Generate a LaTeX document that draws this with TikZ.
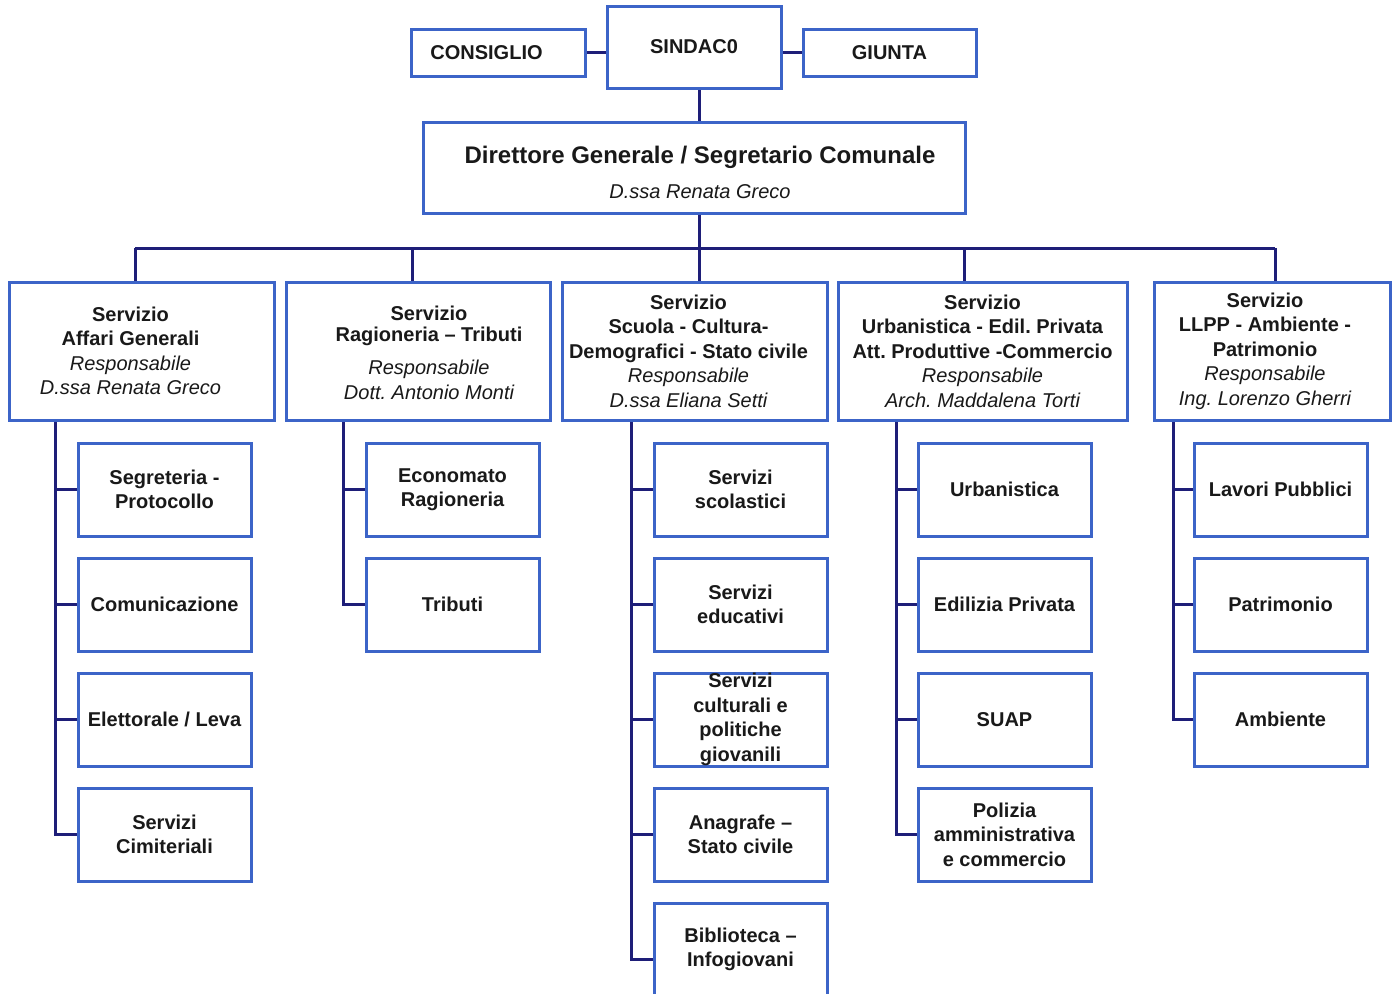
\documentclass[tikz,border=0pt]{standalone}
\usepackage{fontspec}
\setmainfont{Liberation Sans}
\usetikzlibrary{backgrounds}
\definecolor{boxblue}{RGB}{60,100,200}
\definecolor{linenavy}{RGB}{30,30,120}
\definecolor{ink}{RGB}{25,25,25}
\newcommand{\rit}[1]{{\mdseries\itshape #1}}
\frenchspacing
\begin{document}
\begin{tikzpicture}[x=1pt,y=-1pt,
  box/.style={draw=boxblue,line width=3pt,fill=white,inner sep=0pt,align=center,text=ink,font=\bfseries\fontsize{20}{24.5}\selectfont},
  subbox/.style={box,minimum width=173pt,minimum height=93pt},
  servbox/.style={box,minimum height=138pt},
  txt/.style={inner sep=0pt,align=center,text=ink,font=\bfseries\fontsize{20}{24.5}\selectfont},
  conn/.style={draw=linenavy,line width=3pt}]
\useasboundingbox (0,0) rectangle (1397,993);
\clip (0,0) rectangle (1397,993);

% ---- top level
\node[box,minimum width=174pt,minimum height=82pt] (sind) at (694,47) {SINDAC0};
\node[box,minimum width=174pt,minimum height=47pt] (cons) at (498,52.5) {CONSIGLIO\hspace*{23pt}};
\node[box,minimum width=173pt,minimum height=47pt] (giun) at (889.5,52.5) {GIUNTA};
\node[box,minimum width=542pt,minimum height=91pt] (dir) at (694,167.5) {};
\node[txt,font=\bfseries\fontsize{24}{28}\selectfont] (dirt) at (700,157) {Direttore Generale / Segretario Comunale};
\node[txt,font=\itshape\fontsize{20}{24}\selectfont] (dirn) at (700,192) {D.ssa Renata Greco};

% ---- services
\node[servbox,minimum width=265pt] (s1) at (141.5,351) {};
\node[servbox,minimum width=264pt] (s2) at (418,351) {};
\node[servbox,minimum width=265pt] (s3) at (694.5,351) {};
\node[servbox,minimum width=289pt] (s4) at (982.5,351) {};
\node[servbox,minimum width=236pt] (s5) at (1272,351) {};

\node[txt] (s1t) at (130.5,351) {Servizio\\Affari Generali\\\rit{Responsabile}\\\rit{D.ssa Renata Greco}};
\node[txt] (s2t) at (429,353) {Servizio\\[-3.5pt]Ragioneria – Tributi\\[8.5pt]\rit{Responsabile}\\\rit{Dott. Antonio Monti}};
\node[txt] (s3t) at (688.5,351) {Servizio\\Scuola - Cultura-\\Demografici - Stato civile\\\rit{Responsabile}\\\rit{D.ssa Eliana Setti}};
\node[txt] (s4t) at (982.5,351) {Servizio\\Urbanistica - Edil. Privata\\Att. Produttive -Commercio\\\rit{Responsabile}\\\rit{Arch. Maddalena Torti}};
\node[txt] (s5t) at (1265,351) {Servizio\\LLPP - Ambiente -\\Patrimonio\\\rit{Responsabile}\\\rit{Ing. Lorenzo Gherri}};

% ---- column 1
\node[subbox] (a1) at (164.5,489.5) {Segreteria -\\Protocollo};
\node[subbox] (a2) at (164.5,604.5) {Comunicazione};
\node[subbox] (a3) at (164.5,719.5) {Elettorale / Leva};
\node[subbox] (a4) at (164.5,834.5) {Servizi\\Cimiteriali};
% ---- column 2
\node[subbox] (b1) at (452.5,489.5) {Economato\\Ragioneria};
\node[subbox] (b2) at (452.5,604.5) {Tributi};
% ---- column 3
\node[subbox] (c1) at (740.5,489.5) {Servizi\\scolastici};
\node[subbox] (c2) at (740.5,604.5) {Servizi\\educativi};
\node[subbox] (c3) at (740.5,719.5) {Servizi\\culturali e\\politiche\\giovanili};
\node[subbox] (c4) at (740.5,834.5) {Anagrafe –\\Stato civile};
\node[subbox] (c5) at (740.5,949.5) {Biblioteca –\\Infogiovani};
% ---- column 4
\node[subbox] (e1) at (1004.5,489.5) {Urbanistica};
\node[subbox] (e2) at (1004.5,604.5) {Edilizia Privata};
\node[subbox] (e3) at (1004.5,719.5) {SUAP};
\node[subbox] (e4) at (1004.5,834.5) {Polizia\\amministrativa\\e commercio};
% ---- column 5
\node[subbox] (f1) at (1280.5,489.5) {Lavori Pubblici};
\node[subbox] (f2) at (1280.5,604.5) {Patrimonio};
\node[subbox] (f3) at (1280.5,719.5) {Ambiente};

% ---- connectors
\coordinate (mid) at (699,0);
\coordinate (d1) at (135,248);
\coordinate (d2) at (412,248);
\coordinate (d3) at (699,248);
\coordinate (d4) at (964,248);
\coordinate (d5) at (1275,248);
\coordinate (sp1) at (55,0);
\coordinate (sp2) at (343,0);
\coordinate (sp3) at (631,0);
\coordinate (sp4) at (896,0);
\coordinate (sp5) at (1173,0);
\begin{scope}[on background layer]
\draw[conn] (cons.east) -- (cons.east -| sind.west);
\draw[conn] (giun.west) -- (giun.west -| sind.east);
\draw[conn] (sind.south -| mid) -- (dir.north -| mid);
\draw[conn] (dir.south -| mid) -- (d3);
\draw[conn] (d1) -- (d5);
\foreach \i in {1,...,5} {\draw[conn] (d\i) -- (s\i.north -| d\i);}
% col 1
\draw[conn] (s1.south -| sp1) |- (a4.west);
\foreach \n in {a1,a2,a3} {\draw[conn] (\n.west) -- (\n.west -| sp1);}
% col 2
\draw[conn] (s2.south -| sp2) |- (b2.west);
\draw[conn] (b1.west) -- (b1.west -| sp2);
% col 3
\draw[conn] (s3.south -| sp3) |- ([yshift=-10pt]c5.west);
\foreach \n in {c1,c2,c3,c4} {\draw[conn] (\n.west) -- (\n.west -| sp3);}
% col 4
\draw[conn] (s4.south -| sp4) |- (e4.west);
\foreach \n in {e1,e2,e3} {\draw[conn] (\n.west) -- (\n.west -| sp4);}
% col 5
\draw[conn] (s5.south -| sp5) |- (f3.west);
\foreach \n in {f1,f2} {\draw[conn] (\n.west) -- (\n.west -| sp5);}
\end{scope}
\end{tikzpicture}
\end{document}
